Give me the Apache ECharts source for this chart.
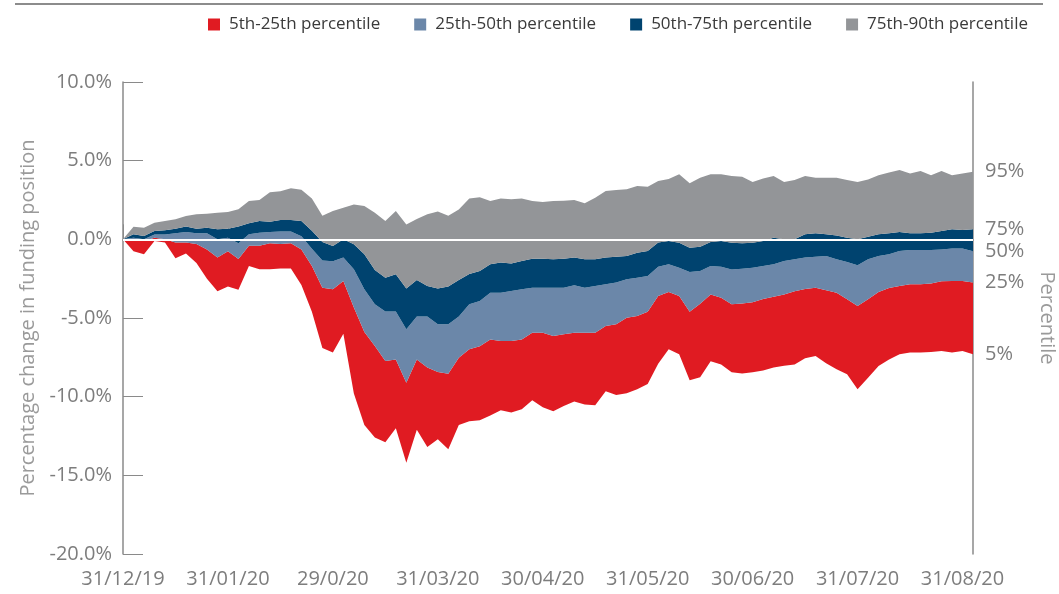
<!DOCTYPE html>
<html>
<head>
<meta charset="utf-8">
<title>Funding position percentiles</title>
<script src="https://cdn.jsdelivr.net/npm/echarts@6/dist/echarts.min.js"></script>
<style>
	html, body { margin: 0; padding: 0; background: #ffffff; }
	#chart { width: 1059px; height: 594px; }
</style>
</head>
<body>
<div id="chart"></div>
<script>
/**
 * data (% change in funding position)
 * 10 points per month, 31/12/19 .. end of Aug 2020
 * */
var tickLabels = ['31/12/19', '31/01/20', '29/0/20', '31/03/20', '30/04/20', '31/05/20', '30/06/20', '31/07/20', '31/08/20'];

var p5 = [0, -0.75, -0.95, -0.1, -0.2, -1.2, -0.9, -1.5, -2.5, -3.3, -3.0,
	-3.2, -1.7, -1.9, -1.9, -1.85, -1.85, -2.9, -4.6, -6.9, -7.2,
	-6.0, -9.8, -11.8, -12.6, -12.9, -12.0, -14.2, -12.1, -13.2, -12.7,
	-13.35, -11.8, -11.57, -11.5, -11.2, -10.87, -11.0, -10.8, -10.23, -10.68,
	-10.93, -10.59, -10.3, -10.49, -10.55, -9.66, -9.9, -9.79, -9.53, -9.2,
	-7.9, -6.99, -7.3, -8.96, -8.77, -7.75, -7.95, -8.45, -8.52, -8.45,
	-8.33, -8.14, -8.04, -7.95, -7.56, -7.42, -7.88, -8.26, -8.58, -9.53,
	-8.79, -8.05, -7.63, -7.31, -7.2, -7.2, -7.16, -7.1, -7.2, -7.1, -7.31];

var p25 = [0, -0.05, -0.1, 0.1, 0, -0.2, -0.2, -0.3, -0.65, -1.15, -0.75,
	-1.25, -0.4, -0.4, -0.25, -0.3, -0.25, -0.65, -1.69, -3.07, -3.18,
	-2.65, -4.34, -5.89, -6.78, -7.73, -7.63, -9.11, -7.63, -8.15, -8.43,
	-8.54, -7.52, -6.99, -6.8, -6.36, -6.46, -6.46, -6.36, -5.93, -5.93,
	-6.14, -6.04, -5.93, -5.93, -5.93, -5.51, -5.4, -4.98, -4.87, -4.6,
	-3.6, -3.35, -3.6, -4.6, -4.1, -3.5, -3.71, -4.13, -4.08, -4.0,
	-3.8, -3.65, -3.5, -3.3, -3.15, -3.07, -3.24, -3.39, -3.81, -4.24,
	-3.81, -3.35, -3.09, -2.97, -2.86, -2.86, -2.8, -2.67, -2.65, -2.65, -2.75];

var p50 = [0, 0.1, 0, 0.3, 0.3, 0.38, 0.47, 0.38, 0.38, 0, 0.1,
	-0.25, 0.32, 0.42, 0.47, 0.5, 0.5, 0.2, -0.6, -1.35, -1.4,
	-1.16, -1.9, -3.18, -4.13, -4.58, -4.58, -5.72, -4.9, -4.9, -5.4,
	-5.4, -4.9, -4.13, -3.92, -3.39, -3.39, -3.28, -3.18, -3.07, -3.07,
	-3.07, -3.07, -2.92, -3.07, -2.97, -2.86, -2.75, -2.54, -2.44, -2.33,
	-1.75, -1.59, -1.8, -2.08, -2.01, -1.69, -1.74, -1.91, -1.87, -1.8,
	-1.69, -1.59, -1.38, -1.27, -1.16, -1.1, -1.06, -1.27, -1.44, -1.65,
	-1.27, -1.06, -0.95, -0.74, -0.68, -0.68, -0.68, -0.64, -0.59, -0.59, -0.76];

var p75 = [0, 0.32, 0.21, 0.53, 0.57, 0.68, 0.81, 0.68, 0.74, 0.64, 0.68,
	0.81, 1.02, 1.17, 1.12, 1.23, 1.23, 1.17, 0.55, -0.17, -0.42,
	0, -0.32, -0.95, -1.95, -2.44, -2.22, -3.13, -2.59, -2.97, -3.13,
	-3.0, -2.59, -2.2, -2.01, -1.59, -1.48, -1.53, -1.38, -1.23, -1.23,
	-1.27, -1.23, -1.16, -1.27, -1.27, -1.16, -1.1, -1.06, -0.85, -0.74,
	-0.2, -0.1, -0.21, -0.53, -0.47, -0.17, -0.1, -0.21, -0.25, -0.21,
	-0.1, 0.1, 0, 0, 0.32, 0.38, 0.32, 0.25, 0.1, 0,
	0.17, 0.32, 0.38, 0.47, 0.38, 0.38, 0.42, 0.53, 0.64, 0.6, 0.64];

var p95 = [0, 0.8, 0.74, 1.06, 1.17, 1.27, 1.48, 1.59, 1.63, 1.69, 1.74,
	1.91, 2.44, 2.5, 3.0, 3.05, 3.24, 3.15, 2.6, 1.5, 1.8,
	2.01, 2.22, 2.12, 1.69, 1.17, 1.8, 0.95, 1.3, 1.6, 1.77,
	1.5, 1.9, 2.6, 2.67, 2.44, 2.59, 2.54, 2.59, 2.44, 2.37,
	2.44, 2.46, 2.5, 2.29, 2.65, 3.07, 3.13, 3.18, 3.39, 3.35,
	3.71, 3.84, 4.13, 3.56, 3.92, 4.13, 4.13, 4.02, 3.97, 3.64,
	3.86, 4.02, 3.64, 3.77, 4.02, 3.92, 3.92, 3.92, 3.77, 3.64,
	3.81, 4.07, 4.24, 4.41, 4.19, 4.34, 4.07, 4.34, 4.07, 4.19, 4.3];

var bandNames = ['5th-25th percentile', '25th-50th percentile', '50th-75th percentile', '75th-90th percentile'];
var bandColors = ['#e01b22', '#6b87a9', '#00436f', '#939598'];
var endLabels = ['5%', '25%', '50%', '75%', '95%'];

/**
 * helpers
 * */
var methods = {
	//band thickness = upper - lower
	diff(upper, lower) {
		return upper.map(function(v, i) {
			return +(v - lower[i]).toFixed(3);
		});
	},
	//one stacked layer
	layer(name, data, color, endText) {
		return {
			name: name,
			type: 'line',
			stack: 'pct',
			stackStrategy: 'all',
			data: data,
			showSymbol: false,
			symbol: 'none',
			lineStyle: { width: 0, opacity: 0 },
			areaStyle: color ? { color: color, opacity: 1 } : null,
			itemStyle: { color: color || '#ffffff' },
			endLabel: {
				show: true,
				formatter: endText,
				color: '#7d7d7d',
				fontSize: 20,
				fontFamily: 'Open Sans',
				distance: 12
			},
			emphasis: { disabled: true },
			silent: true
		};
	}
};

var dom = {
	el: document.getElementById('chart')
};

var categories = p5.map(function(v, i) { return String(i); });

var series = [
	methods.layer('base', p5, null, endLabels[0]),
	methods.layer(bandNames[0], methods.diff(p25, p5), bandColors[0], endLabels[1]),
	methods.layer(bandNames[1], methods.diff(p50, p25), bandColors[1], endLabels[2]),
	methods.layer(bandNames[2], methods.diff(p75, p50), bandColors[2], endLabels[3]),
	methods.layer(bandNames[3], methods.diff(p95, p75), bandColors[3], endLabels[4])
];
//white zero line over the bands
series[4].markLine = {
	silent: true,
	symbol: 'none',
	label: { show: false },
	lineStyle: { color: '#ffffff', width: 2, type: 'solid' },
	data: [{ yAxis: 0 }]
};

var axisGrey = '#8a8a8a';
var textGrey = '#7d7d7d';

var option = {
	animation: false,
	backgroundColor: '#ffffff',
	textStyle: { fontFamily: 'Open Sans' },
	graphic: [{
		type: 'rect',
		left: 15,
		top: 3,
		shape: { width: 1028, height: 2 },
		style: { fill: '#8c8c8c' }
	}],
	legend: {
		data: bandNames,
		top: 11,
		right: 26,
		icon: 'rect',
		itemWidth: 12,
		itemHeight: 12,
		itemGap: 34,
		textStyle: { color: '#3a3a3a', fontSize: 17, fontFamily: 'Open Sans', padding: [0, 0, 0, 4] }
	},
	grid: { left: 123, right: 86, top: 82, bottom: 40, outerBoundsMode: 'none' },
	xAxis: {
		type: 'category',
		boundaryGap: false,
		data: categories,
		axisLine: { lineStyle: { color: axisGrey, width: 1.5 } },
		axisTick: {
			inside: true,
			length: 15,
			interval: function(i) { return i % 10 === 0; },
			lineStyle: { color: axisGrey }
		},
		axisLabel: {
			interval: function(i) { return i % 10 === 0; },
			formatter: function(v, i) { return tickLabels[i / 10] || ''; },
			color: textGrey,
			fontSize: 20,
			margin: 15
		},
		splitLine: { show: false }
	},
	yAxis: [{
		type: 'value',
		min: -20,
		max: 10,
		interval: 5,
		name: 'Percentage change in funding position',
		nameLocation: 'middle',
		nameGap: 84,
		nameRotate: 90,
		nameTextStyle: { color: '#9a9a9a', fontSize: 20 },
		axisLine: { show: true, lineStyle: { color: axisGrey, width: 1.5 } },
		axisTick: { show: true, inside: true, length: 20, lineStyle: { color: axisGrey } },
		axisLabel: {
			formatter: function(v) { return v.toFixed(1) + '%'; },
			color: textGrey,
			fontSize: 20,
			margin: 11
		},
		splitLine: { show: false }
	}, {
		type: 'value',
		position: 'right',
		min: -20,
		max: 10,
		interval: 5,
		name: 'Percentile',
		nameLocation: 'middle',
		nameGap: 64,
		nameRotate: -90,
		nameTextStyle: { color: '#9a9a9a', fontSize: 20 },
		axisLine: { show: true, lineStyle: { color: axisGrey, width: 1.5 } },
		axisTick: { show: false },
		axisLabel: { show: false },
		splitLine: { show: false }
	}],
	series: series
};

var page = {
	init() {
		var chart = echarts.init(dom.el, null, { renderer: 'canvas' });
		chart.setOption(option);
	}
};

page.init();
</script>
</body>
</html>
